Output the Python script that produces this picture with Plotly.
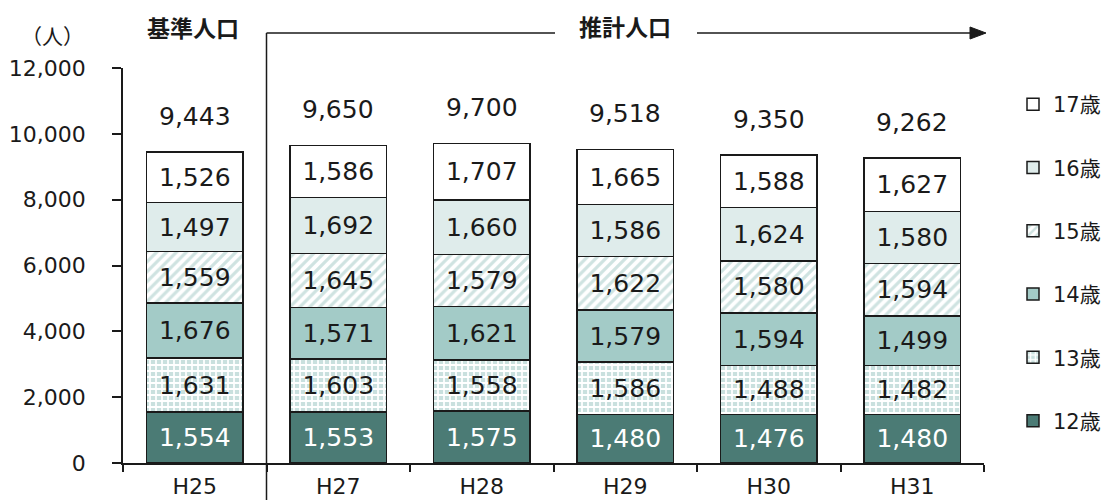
import plotly.graph_objects as go

categories = ["H25", "H27", "H28", "H29", "H30", "H31"]
series_names = ["12歳", "13歳", "14歳", "15歳", "16歳", "17歳"]
age12 = [1554, 1553, 1575, 1480, 1476, 1480]
age13 = [1631, 1603, 1558, 1586, 1488, 1482]
age14 = [1676, 1571, 1621, 1579, 1594, 1499]
age15 = [1559, 1645, 1579, 1622, 1580, 1594]
age16 = [1497, 1692, 1660, 1586, 1624, 1580]
age17 = [1526, 1586, 1707, 1665, 1588, 1627]
totals = [9443, 9650, 9700, 9518, 9350, 9262]
y_ticks = [0, 2000, 4000, 6000, 8000, 10000, 12000]

FONT = "DejaVu Sans, Noto Sans CJK JP, sans-serif"
CJK = "Noto Sans CJK JP, sans-serif"
INK = "#1a1a1a"

# plot-area geometry in pixels (used only for decoration placement)
L, R, T, B = 123, 984, 68, 463
W, H = R - L, B - T
def px(x):
    return (x - L) / W
def py(y):
    return (B - y) / H

styles = [
    dict(color="#4B7B75", pattern=None, text="white"),
    dict(color="white", pattern=dict(shape="+", fgcolor="white", bgcolor="#C9E0DE", size=6, solidity=0.5, fillmode="replace"), text=INK),
    dict(color="#A3CBC7", pattern=None, text=INK),
    dict(color="white", pattern=dict(shape="/", fgcolor="#CFE3E1", bgcolor="white", size=7, solidity=0.45, fillmode="replace"), text=INK),
    dict(color="#DFECEB", pattern=None, text=INK),
    dict(color="white", pattern=None, text=INK),
]
values = [age12, age13, age14, age15, age16, age17]

fig = go.Figure()
n = len(series_names)
for i, (name, vals, st) in enumerate(zip(series_names, values, styles)):
    marker = dict(color=st["color"], line=dict(color=INK, width=1.5))
    if st["pattern"]:
        marker["pattern"] = st["pattern"]
    fig.add_trace(go.Bar(
        x=categories, y=vals, name=name, legendgroup=name, legendrank=n - i,
        marker=marker,
        text=[f"{v:,}" for v in vals], textposition="inside",
        insidetextanchor="middle", textangle=0, constraintext="none",
        textfont=dict(family=FONT, size=25, color=st["text"]),
        hoverinfo="skip",
    ))

annotations = []
for c, t in zip(categories, totals):
    annotations.append(dict(x=c, y=t, text=f"{t:,}", showarrow=False,
                            xref="x", yref="y", xanchor="center", yanchor="middle", yshift=36,
                            font=dict(family=FONT, size=25, color=INK)))
annotations += [
    dict(x=px(52), y=py(35), xref="paper", yref="paper", text="（人）", showarrow=False,
         xanchor="center", yanchor="middle", font=dict(family=CJK, size=21, color=INK)),
    dict(x=px(193), y=py(27), xref="paper", yref="paper", text="<b>基準人口</b>", showarrow=False,
         xanchor="center", yanchor="middle", font=dict(family=CJK, size=23, color=INK)),
    dict(x=px(625), y=py(26), xref="paper", yref="paper", text="<b>推計人口</b>", showarrow=False,
         xanchor="center", yanchor="middle", font=dict(family=CJK, size=23, color=INK)),
]

shapes = [
    dict(type="line", xref="paper", yref="paper", x0=px(266.5), x1=px(266.5), y0=py(500), y1=py(33),
         line=dict(color=INK, width=1.5)),
    dict(type="line", xref="paper", yref="paper", x0=px(266.5), x1=px(555), y0=py(33), y1=py(33),
         line=dict(color=INK, width=1.5)),
    dict(type="line", xref="paper", yref="paper", x0=px(697), x1=px(972), y0=py(33), y1=py(33),
         line=dict(color=INK, width=1.5)),
    dict(type="path", xref="paper", yref="paper",
         path=f"M {px(970)} {py(27)} L {px(986)} {py(33)} L {px(970)} {py(39)} Z",
         fillcolor=INK, line=dict(color=INK, width=1)),
]

fig.update_layout(
    barmode="stack", bargap=0.33,
    width=1106, height=500,
    margin=dict(l=L, r=1106 - R, t=T, b=500 - B, autoexpand=False),
    paper_bgcolor="white", plot_bgcolor="white",
    font=dict(family=FONT, color=INK),
    showlegend=True,
    legend=dict(traceorder="grouped", tracegroupgap=33,
                x=px(1013), y=py(84), xanchor="left", yanchor="top",
                font=dict(family=FONT, size=21, color=INK),
                bgcolor="rgba(0,0,0,0)"),
    annotations=annotations, shapes=shapes,
    xaxis=dict(showline=True, linecolor=INK, linewidth=1.5, ticks="outside", tickson="boundaries",
               ticklen=7, tickcolor=INK, tickwidth=1.5, tickfont=dict(family=FONT, size=22, color=INK),
               showgrid=False, zeroline=False, ticklabelstandoff=3),
    yaxis=dict(range=[0, 12000], tickvals=y_ticks, tickformat=",", showline=True, linecolor=INK,
               linewidth=1.5, ticks="outside", ticklen=9, tickcolor=INK, tickwidth=1.5,
               tickfont=dict(family=FONT, size=22, color=INK), showgrid=False, zeroline=False,
               ticklabelstandoff=22),
)

fig.write_html("out.html", config={"displayModeBar": False})
with open("out.html", encoding="utf-8") as f:
    html = f.read()
html = html.replace("<head>", "<head><style>html,body{margin:0;padding:0;overflow:hidden;}</style>", 1)
with open("out.html", "w", encoding="utf-8") as f:
    f.write(html)
